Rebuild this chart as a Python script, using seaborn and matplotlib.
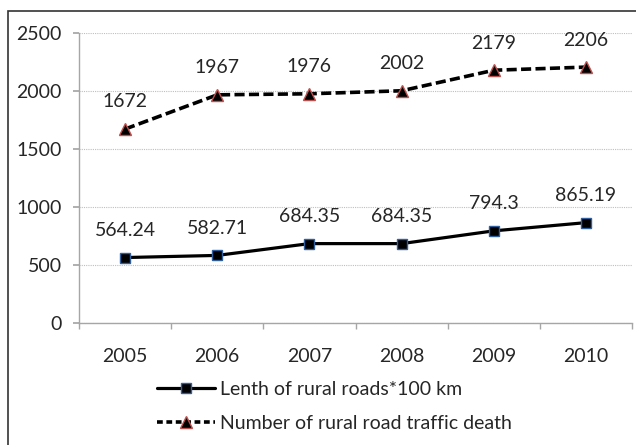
import matplotlib
matplotlib.use("Agg")
import matplotlib.pyplot as plt
import seaborn as sns
import pandas as pd
from matplotlib.lines import Line2D
from matplotlib.patches import Rectangle

years = [2005, 2006, 2007, 2008, 2009, 2010]
road_length = [564.24, 582.71, 684.35, 684.35, 794.3, 865.19]
traffic_deaths = [1672, 1967, 1976, 2002, 2179, 2206]
road_labels = ["564.24", "582.71", "684.35", "684.35", "794.3", "865.19"]
death_labels = ["1672", "1967", "1976", "2002", "2179", "2206"]
series_names = ["Lenth of rural roads*100 km", "Number of rural road traffic death"]

sns.set_theme(style="white")
plt.rcParams["font.family"] = ["Lato", "DejaVu Sans"]
FS = 14
TXT = "#262626"

df = pd.DataFrame({"year": years, "road": road_length, "death": traffic_deaths})

fig = plt.figure(figsize=(6.36, 4.45), dpi=100)
ax = fig.add_axes([79/636, 1-323/445, (632-79)/636, (323-33)/445])

sns.lineplot(data=df, x="year", y="road", ax=ax, color="black", lw=2.3,
             marker="s", markersize=7.5, markerfacecolor="black",
             markeredgecolor="#2f5f9e", markeredgewidth=1.0)
sns.lineplot(data=df, x="year", y="death", ax=ax, color="black", lw=2.6,
             linestyle=(0, (2.8, 1.2)),
             marker="^", markersize=8.5, markerfacecolor="black",
             markeredgecolor="#c0504d", markeredgewidth=1.0)

for x, y, t in zip(years, road_length, road_labels):
    ax.annotate(t, (x, y), xytext=(0, 19.5), textcoords="offset points",
                ha="center", va="center", fontsize=FS, color=TXT)
for x, y, t in zip(years, traffic_deaths, death_labels):
    ax.annotate(t, (x, y), xytext=(0, 19.5), textcoords="offset points",
                ha="center", va="center", fontsize=FS, color=TXT)

ax.set_xlim(2004.5, 2010.5)
ax.set_ylim(0, 2500)
ax.set_yticks(range(0, 2501, 500))
ax.set_xticks(years)
ax.set_xticklabels([str(y) for y in years])
ax.set_xticks([y + 0.5 for y in [2004] + years], minor=True)
ax.set_xlabel("")
ax.set_ylabel("")
ax.yaxis.grid(True, color="#bfbfbf", linestyle=(0, (1, 1)), lw=0.8)
ax.xaxis.grid(False)
for s in ["top", "right"]:
    ax.spines[s].set_visible(False)
for s in ["left", "bottom"]:
    ax.spines[s].set_color("#a6a6a6")
    ax.spines[s].set_linewidth(1.0)
ax.tick_params(axis="y", which="major", left=True, length=4.3, color="#a6a6a6",
               labelsize=FS, pad=8, labelcolor=TXT)
ax.tick_params(axis="x", which="major", bottom=False, labelsize=FS, pad=12,
               labelcolor=TXT)
ax.tick_params(axis="x", which="minor", bottom=True, length=4.3, color="#a6a6a6")

handles = [
    Line2D([], [], color="black", lw=2.3, marker="s", markersize=7.5,
           markerfacecolor="black", markeredgecolor="#2f5f9e"),
    Line2D([], [], color="black", lw=2.6, linestyle=(0, (1.6, 1.0)), marker="^",
           markersize=8.5, markerfacecolor="black", markeredgecolor="#c0504d"),
]
fig.legend(handles, series_names, loc="upper left",
           bbox_to_anchor=(157/636, 1-381/445), frameon=False, fontsize=FS,
           handlelength=3.0, handletextpad=0.25, labelspacing=0.85,
           borderpad=0, borderaxespad=0)

fig.patches.append(Rectangle((8/636, -0.1), 1.2, 1.1 - 11/445,
                             transform=fig.transFigure, fill=False,
                             edgecolor="#333333", lw=1.2))
fig.savefig("out.png", dpi=100)
